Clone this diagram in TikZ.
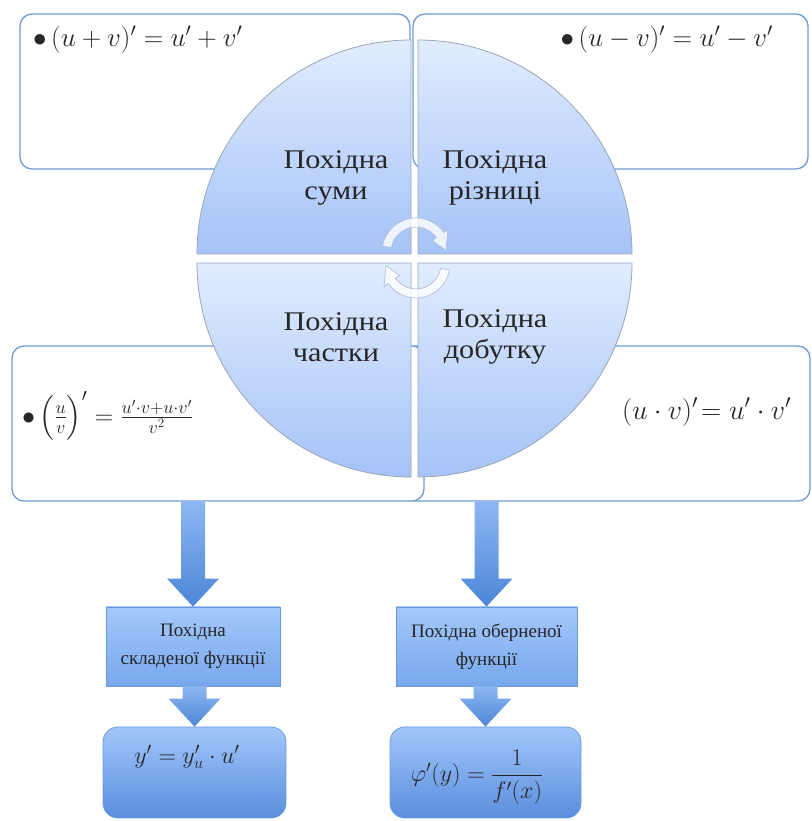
\documentclass[tikz,border=0pt]{standalone}
\usepackage{fix-cm}
\usepackage{amsmath}
\usepackage{fontspec}
\setmainfont{Liberation Serif}
\newfontfamily\labfont[FakeStretch=1.12]{Liberation Serif}
\usetikzlibrary{calc}
\definecolor{Edge}{HTML}{6F9BD6}
\definecolor{QuadTop}{HTML}{E1ECFE}
\definecolor{QuadBot}{HTML}{A5C3F8}
\definecolor{QuadLine}{HTML}{9AA5B5}
\definecolor{BoxTop}{HTML}{A4C8FB}
\definecolor{BoxBot}{HTML}{78A7EC}
\definecolor{BoxLine}{HTML}{6A99DA}
\definecolor{RoundTop}{HTML}{A2C6FA}
\definecolor{RoundBot}{HTML}{5A8EDD}
\definecolor{ArrowTop}{HTML}{8DB7F2}
\definecolor{ArrowBot}{HTML}{4C86D7}
\definecolor{CycLine}{HTML}{AFC0D8}
\definecolor{Ink}{HTML}{262626}
\tikzset{
  infobox/.style={draw=Edge,fill=white,line width=1.3pt,rounded corners=12pt,inner sep=0pt},
  quad/.style={top color=QuadTop,bottom color=QuadBot,draw=QuadLine,line width=.8pt},
  lab/.style={align=center,text=Ink,font=\labfont\fontsize{27}{31}\selectfont},
  formula/.style={inner sep=0pt,text=Ink,font=\fontsize{27}{32}\selectfont},
  sbox/.style={draw=BoxLine,top color=BoxTop,bottom color=BoxBot,line width=.8pt,align=center,inner sep=0pt,text=Ink,font=\fontsize{19}{28}\selectfont},
  rbox/.style={sbox,rounded corners=15pt,top color=RoundTop,bottom color=RoundBot},
  barrow/.style={top color=ArrowTop,bottom color=ArrowBot},
  cyc/.style={fill=white,fill opacity=.8,draw=CycLine,line width=.7pt},
}
\newcommand{\bigarrow}[2]{%
  \path[barrow] let \p1=(#1),\p2=(#2) in
    (\x2-12pt,\y1) -- (\x2+12pt,\y1) -- (\x2+12pt,\y2+28pt) -- (\x2+26pt,\y2+28pt)
    -- (\x2,\y2) -- (\x2-26pt,\y2+28pt) -- (\x2-12pt,\y2+28pt) -- cycle;}

\begin{document}
\begin{tikzpicture}[x=1pt,y=1pt]
  \useasboundingbox (0,0) rectangle (811,821);
  % rule boxes behind the circle
  \node[infobox,minimum width=390pt,minimum height=155pt] (sumbox) at (215,729.5) {};
  \node[infobox,minimum width=395pt,minimum height=155pt] (diffbox) at (610.5,729.5) {};
  \node[infobox,minimum width=407pt,minimum height=155pt] (prodbox) at (606.5,397.5) {};
  \node[infobox,minimum width=412pt,minimum height=155pt] (quotbox) at (218,397.5) {};

  % four quarters of the circle
  \path[quad] (411,567) -- ++(-214,0) arc[start angle=180,end angle=90,radius=214] -- cycle;
  \path[quad] (418,567) -- ++(0,214) arc[start angle=90,end angle=0,radius=214] -- cycle;
  \path[quad] (411,558) -- ++(0,-214) arc[start angle=270,end angle=180,radius=214] -- cycle;
  \path[quad] (418,558) -- ++(214,0) arc[start angle=0,end angle=-90,radius=214] -- cycle;

  % circular arrows in the middle
  \foreach \cy/\r in {569/0,557/180}{
    \begin{scope}[shift={(416,\cy)},rotate=\r]
      \path[cyc] (170:34) arc[start angle=170,end angle=35,radius=34] -- (35:39) -- (3:30)
        -- (35:20) -- (35:25) arc[start angle=35,end angle=170,radius=25] -- cycle;
    \end{scope}}

  \node[lab] (sumlab) at (336,643) {Похідна\\суми};
  \node[lab] (difflab) at (495,643) {Похідна\\різниці};
  \node[lab] (quotlab) at (336,484) {Похідна\\частки};
  \node[lab] (prodlab) at (495,484) {Похідна\\добутку};

  \node[formula,anchor=west] (sumf) at (33,781) {$\bullet\,(u+v)'=u'+v'$};
  \node[formula,anchor=east] (difff) at (773,781) {$\bullet\,(u-v)'=u'-v'$};
  \node[formula,anchor=west,font=\fontsize{26}{30}\selectfont] (quotf) at (22,405)
    {$\bullet\,\Bigl(\frac{u}{v}\Bigr)'=\frac{u'\cdot v+u\cdot v'}{v^2}$};
  \node[formula,anchor=west,font=\fontsize{28}{32}\selectfont] (prodf) at (622,409) {$(u\cdot v)'\!=u'\cdot v'$};

  % lower part
  \node[sbox,minimum width=174pt,minimum height=79pt] (comp) at (193,174.5) {Похідна\\складеної функції};
  \node[sbox,minimum width=181pt,minimum height=79pt] (inv) at (486.5,174.5) {Похідна оберненої\\функції};
  \node[rbox,minimum width=183pt,minimum height=91pt] (compf) at (194.5,48.5) {};
  \node[rbox,minimum width=191pt,minimum height=91pt] (invf) at (485.5,48.5) {};
  \node[formula,font=\fontsize{24}{28}\selectfont] (compr) at (187,64) {$y'=y'_u\cdot u'$};
  \node[formula,font=\fontsize{24}{28}\selectfont] (invr) at (477,44) {$\varphi'(y)=\dfrac{1}{f'(x)}$};

  \bigarrow{quotbox.south -| comp.north}{comp.north}
  \bigarrow{prodbox.south -| inv.north}{inv.north}
  \bigarrow{comp.south}{compf.north}
  \bigarrow{inv.south}{invf.north}
\end{tikzpicture}
\end{document}
